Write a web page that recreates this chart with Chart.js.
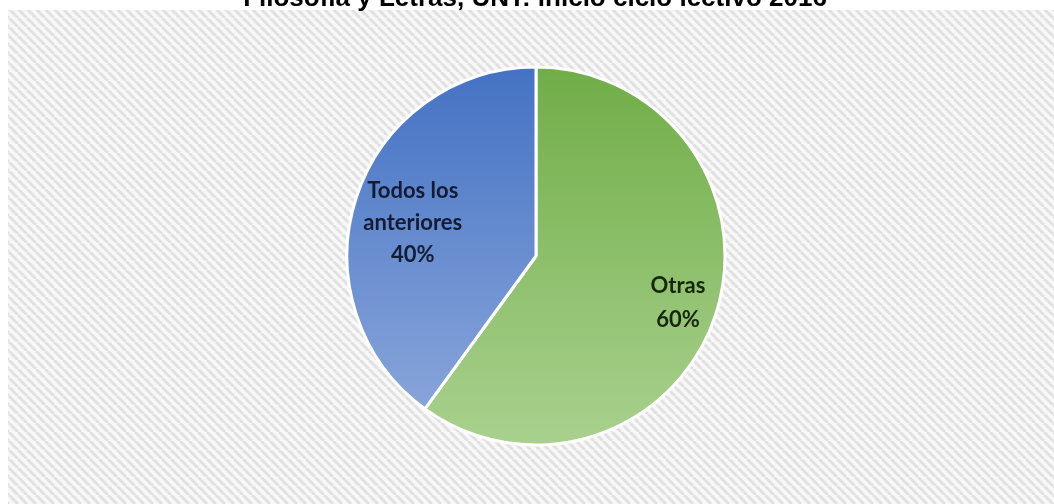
<!DOCTYPE html>
<html>
<head>
<meta charset="utf-8">
<script src="https://cdn.jsdelivr.net/npm/chart.js@4"></script>
<style>
  html, body { margin: 0; padding: 0; background: #ffffff; }
  #wrap { position: relative; width: 1054px; height: 504px; }
</style>
</head>
<body>
<div id="wrap"><canvas id="c" width="1054" height="504"></canvas></div>
<script>
const titleText = 'Filosofía y Letras, UNT: inicio ciclo lectivo 2016';
const categories = ['Otras', 'Todos los anteriores'];
const labelLines = [['Otras'], ['Todos los', 'anteriores']];
const values = [60, 40];
const topColors = ['#70ad47', '#4472c4'];
const bottomColors = ['#a9d18e', '#8faadc'];
const labelColors = ['#16260e', '#141c33'];

function makeHatch() {
  const n = 9;
  const p = document.createElement('canvas');
  p.width = n; p.height = n;
  const g = p.getContext('2d');
  g.fillStyle = '#f8f8f8';
  g.fillRect(0, 0, n, n);
  g.strokeStyle = '#e1e1e1';
  g.lineWidth = 3;
  for (const o of [-n, 0, n]) {
    g.beginPath();
    g.moveTo(o, 0);
    g.lineTo(o + n, n);
    g.stroke();
  }
  return p;
}
const hatchCanvas = makeHatch();

const bgPlugin = {
  id: 'bg',
  beforeDraw(chart) {
    const ctx = chart.ctx;
    ctx.save();
    ctx.fillStyle = '#ffffff';
    ctx.fillRect(0, 0, chart.width, chart.height);
    ctx.fillStyle = ctx.createPattern(hatchCanvas, 'repeat');
    ctx.fillRect(8, 10, chart.width - 8, chart.height - 10);
    ctx.restore();
  },
  afterDraw(chart) {
    const ctx = chart.ctx;
    ctx.save();
    ctx.fillStyle = '#000000';
    ctx.font = 'bold 26px "Liberation Sans", Arial, sans-serif';
    ctx.textAlign = 'center';
    ctx.textBaseline = 'alphabetic';
    ctx.fillText(titleText, 535, 6);
    ctx.restore();
  }
};

const labelPlugin = {
  id: 'sliceLabels',
  afterDatasetsDraw(chart) {
    const ctx = chart.ctx;
    const meta = chart.getDatasetMeta(0);
    const total = values.reduce((a, b) => a + b, 0);
    const factors = [0.79, 0.68];
    const nudges = [[0, 1], [-1, 7]];
    const lineHs = [34, 32];
    ctx.save();
    ctx.font = 'bold 22px Lato, "Open Sans", sans-serif';
    ctx.textAlign = 'center';
    ctx.textBaseline = 'middle';
    meta.data.forEach((arc, i) => {
      const {x, y, startAngle, endAngle, outerRadius} = arc.getProps(['x', 'y', 'startAngle', 'endAngle', 'outerRadius'], true);
      const mid = (startAngle + endAngle) / 2;
      const r = outerRadius * factors[i];
      const cx = x + Math.cos(mid) * r + nudges[i][0];
      const cy = y + Math.sin(mid) * r + nudges[i][1];
      const lines = labelLines[i].concat([Math.round(values[i] / total * 100) + '%']);
      const lh = lineHs[i];
      const y0 = cy - (lines.length - 1) * lh / 2;
      ctx.fillStyle = labelColors[i];
      lines.forEach((t, k) => ctx.fillText(t, cx, y0 + k * lh));
    });
    ctx.restore();
  }
};

function sliceGradient(context) {
  const i = context.dataIndex;
  const chart = context.chart;
  const area = chart.chartArea;
  if (!area || i === undefined) return topColors[i || 0];
  const cy = (area.top + area.bottom) / 2;
  const r = 189;
  const g = chart.ctx.createLinearGradient(0, cy - r, 0, cy + r);
  g.addColorStop(0, topColors[i]);
  g.addColorStop(1, bottomColors[i]);
  return g;
}

new Chart(document.getElementById('c'), {
  type: 'pie',
  data: {
    labels: categories,
    datasets: [{
      data: values,
      backgroundColor: sliceGradient,
      borderColor: '#ffffff',
      borderWidth: 3,
      hoverOffset: 0
    }]
  },
  options: {
    responsive: false,
    animation: false,
    radius: 189,
    layout: { padding: { left: 18, right: 0, top: 8, bottom: 0 } },
    plugins: {
      legend: { display: false },
      title: { display: false },
      tooltip: { enabled: false }
    }
  },
  plugins: [bgPlugin, labelPlugin]
});
</script>
</body>
</html>
